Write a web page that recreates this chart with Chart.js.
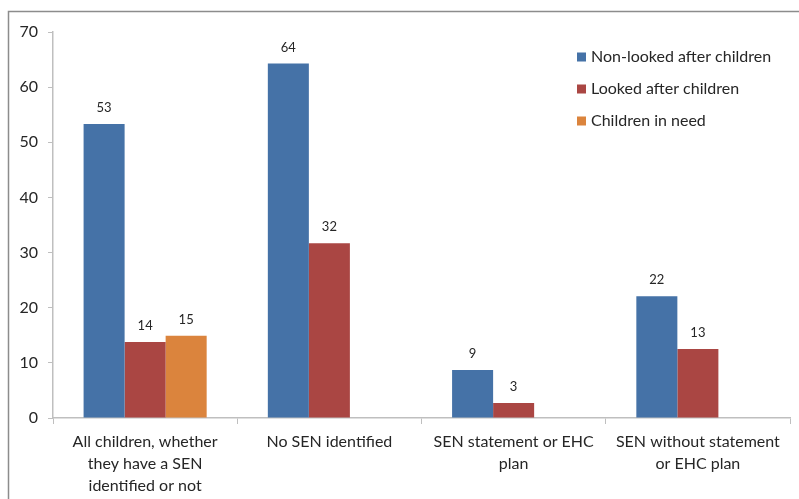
<!DOCTYPE html>
<html>
<head>
<meta charset="utf-8">
<script src="https://cdn.jsdelivr.net/npm/chart.js@4/dist/chart.umd.min.js"></script>
<style>
	html, body { margin: 0; padding: 0; background: #fff; }
	#wrap { width: 799px; height: 499px; }
</style>
</head>
<body>
<div id="wrap"><canvas id="grafico"></canvas></div>
<script>
// dati
const categorie = [
	["All children, whether", "they have a SEN", "identified or not"],
	"No SEN identified",
	["SEN statement or EHC", "plan"],
	["SEN without statement", "or EHC plan"]
];
const nonLooked = [53.3, 64.3, 8.7, 22.1];
const looked = [13.8, 31.7, 2.7, 12.5];
const inNeed = [14.9, null, null, null];
const etichette = [[53, 64, 9, 22], [14, 32, 3, 13], [15, null, null, null]];
const yTicks = [0, 10, 20, 30, 40, 50, 60, 70];

const FONT = "Lato, 'Open Sans', sans-serif";
const TXT = "#262626";

// bordo esterno (solo sopra e a sinistra, il resto è tagliato)
const bordo = {
	id: 'bordo',
	beforeDraw(chart){
		const c = chart.ctx;
		c.save();
		c.strokeStyle = '#8c8c8c';
		c.lineWidth = 1.5;
		c.beginPath();
		c.moveTo(8.5, 499);
		c.lineTo(8.5, 11.5);
		c.lineTo(799, 11.5);
		c.stroke();
		c.restore();
	}
};

// valori sopra le barre
const valori = {
	id: 'valori',
	afterDatasetsDraw(chart){
		const c = chart.ctx;
		c.save();
		c.font = "13px " + FONT;
		c.fillStyle = TXT;
		c.textAlign = 'center';
		c.textBaseline = 'middle';
		chart.data.datasets.forEach((ds, i) => {
			const meta = chart.getDatasetMeta(i);
			meta.data.forEach((el, j) => {
				const v = etichette[i][j];
				if(v === null || ds.data[j] === null) return;
				c.fillText(String(v), el.x, el.y - 16);
			});
		});
		c.restore();
	}
};

// legenda dentro l'area del grafico, in alto a destra
const legenda = {
	id: 'legenda',
	afterDraw(chart){
		const c = chart.ctx;
		const a = chart.chartArea;
		const x0 = a.right - 213;
		c.save();
		c.font = "16px " + FONT;
		c.textBaseline = 'middle';
		chart.data.datasets.forEach((ds, i) => {
			const y = a.top + 25 + i * 32;
			c.fillStyle = ds.backgroundColor;
			c.fillRect(x0, y - 4.5, 9, 9);
			c.fillStyle = TXT;
			c.fillText(ds.label, x0 + 14, y);
		});
		c.restore();
	}
};

const ctx = document.getElementById('grafico').getContext('2d');
new Chart(ctx, {
	type: 'bar',
	data: {
		labels: categorie,
		datasets: [
			{ label: 'Non-looked after children', data: nonLooked, backgroundColor: '#4572A7' },
			{ label: 'Looked after children', data: looked, backgroundColor: '#AA4643' },
			{ label: 'Children in need', data: inNeed, backgroundColor: '#DB843D' }
		]
	},
	options: {
		responsive: true,
		maintainAspectRatio: false,
		animation: false,
		layout: { padding: { left: 0, top: 32, right: 9, bottom: 0 } },
		datasets: { bar: { categoryPercentage: 0.668, barPercentage: 1 } },
		plugins: {
			legend: { display: false },
			tooltip: { enabled: false }
		},
		scales: {
			x: {
				grid: { drawOnChartArea: false, offset: true, tickLength: 6, color: '#bfbfbf' },
				border: { color: '#bfbfbf', width: 1.5 },
				ticks: {
					color: TXT,
					font: { family: FONT, size: 16, lineHeight: 1.38 },
					padding: 7,
					maxRotation: 0,
					autoSkip: false
				},
				afterFit(s){ s.height = 81; }
			},
			y: {
				min: 0,
				max: 70,
				afterBuildTicks(s){ s.ticks = yTicks.map(v => ({ value: v })); },
				grid: { drawOnChartArea: false, tickLength: 5, color: '#bfbfbf' },
				border: { color: '#bfbfbf', width: 1.5 },
				ticks: {
					color: TXT,
					font: { family: FONT, size: 16 },
					padding: 10
				},
				afterFit(s){ s.width = 53; }
			}
		}
	},
	plugins: [bordo, valori, legenda]
});
</script>
</body>
</html>
